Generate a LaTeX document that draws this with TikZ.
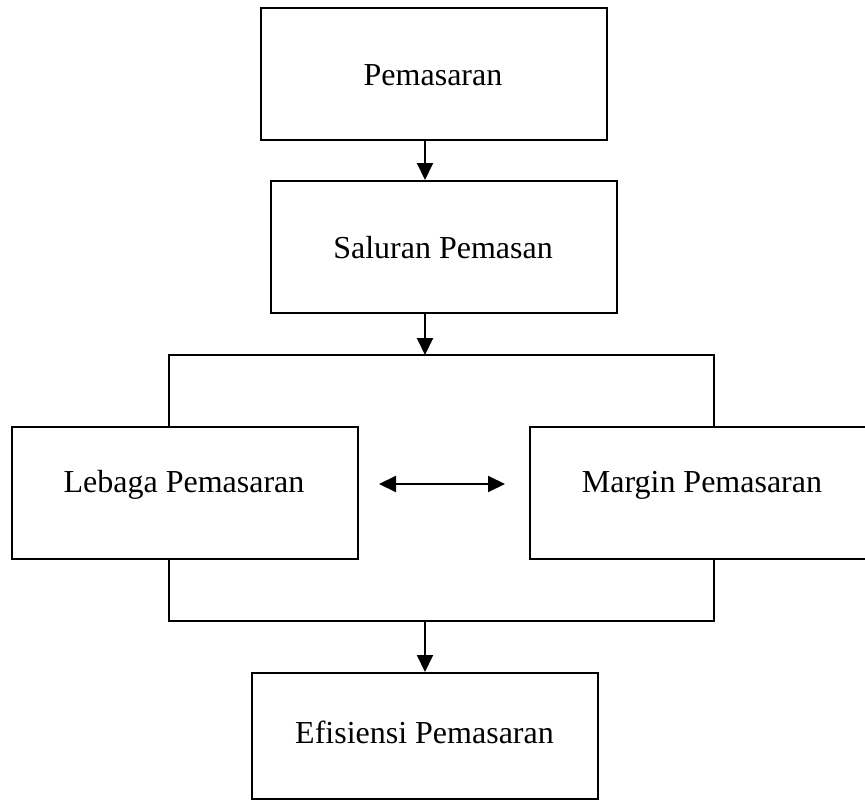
\documentclass[tikz,border=0pt]{standalone}
\usepackage{fontspec}
\setmainfont{Liberation Serif}
\usetikzlibrary{arrows.meta}
\begin{document}
\begin{tikzpicture}[x=1pt,y=-1pt,
  box/.style={draw,line width=2pt,minimum width=346pt,minimum height=132pt,inner sep=0pt,anchor=north west},
  lbl/.style={anchor=base,font=\fontsize{32}{38}\selectfont,inner sep=0pt},
  conn/.style={line width=2pt,line join=miter},
  arr/.style={conn,-{Triangle[width=16pt,length=17pt]}},
  darr/.style={conn,{Triangle[width=16pt,length=17pt]}-{Triangle[width=16pt,length=17pt]}},
]
\useasboundingbox (0,0) rectangle (865,800);
\clip (0,0) rectangle (865,800);
\node[box] (b1) at (260,7) {};
\node[box] (b2) at (270,180) {};
\node[box] (b3) at (11,426) {};
\node[box] (b4) at (529,426) {};
\node[box,minimum height=126pt] (b5) at (251,672) {};
\node[lbl] (t1) at (433,85) {Pemasaran};
\node[lbl] (t2) at (443,258) {Saluran Pemasan};
\node[lbl] (t3) at (184,492) {Lebaga Pemasaran};
\node[lbl] (t4) at (702,492) {Margin Pemasaran};
\node[lbl] (t5) at (424.5,743) {Efisiensi Pemasaran};
\coordinate (tl) at (169,355);
\coordinate (tr) at (714,355);
\coordinate (bl) at (169,621);
\coordinate (br) at (714,621);
\coordinate (dl) at (379,484);
\coordinate (dr) at (505,484);
\draw[arr] (b1.south -| b5.north) -- (b2.north -| b5.north);
\draw[arr] (b2.south -| b5.north) -- (tl -| b5.north);
\draw[conn] (b3.north -| tl) -- (tl) -- (tr) -- (b4.north -| tr);
\draw[conn] (b3.south -| bl) -- (bl) -- (br) -- (b4.south -| br);
\draw[arr] (bl -| b5.north) -- (b5.north);
\draw[darr] (dl) -- (dr);
\end{tikzpicture}
\end{document}
